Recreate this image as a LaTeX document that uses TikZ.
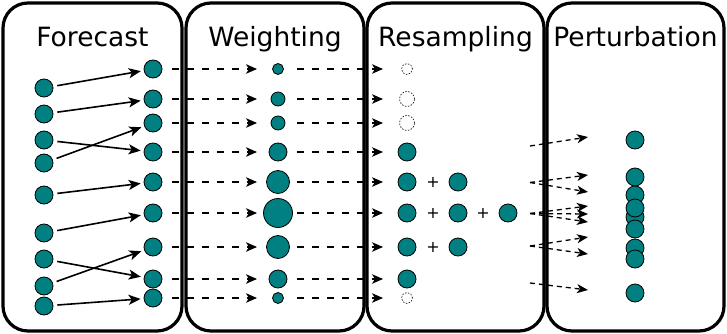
\documentclass[tikz,border=0pt]{standalone}
\usepackage{fontspec}
\newfontfamily\headfont{DejaVu Sans}
\usetikzlibrary{arrows.meta,positioning}
\definecolor{ink}{HTML}{000000}
\definecolor{ptfill}{HTML}{008080}
\tikzset{
  panel/.style={draw=ink,line width=3.2pt,rounded corners=25pt},
  head/.style={font=\headfont\fontsize{26.5}{30}\selectfont,anchor=base,text=ink,inner sep=0pt},
  ptcl/.style={circle,draw=ink,line width=.8pt,fill=ptfill,minimum size=18pt,inner sep=0pt},
  gone/.style={circle,draw=ink,line width=.6pt,dash pattern=on 1.5pt off 1.5pt,fill=white,inner sep=0pt},
  plus/.style={font=\headfont\fontsize{16}{18}\selectfont,inner sep=0pt,text=ink},
  ar/.style={-{Stealth[length=12pt,width=10pt,inset=3pt]},draw=ink,line width=1.6pt},
  dar/.style={-{Stealth[length=11pt,width=9.5pt,inset=3pt]},draw=ink,line width=1.4pt,dash pattern=on 7pt off 8pt},
  par/.style={-{Stealth[length=11pt,width=9pt,inset=3pt]},draw=ink,line width=1.3pt,dash pattern=on 5pt off 4pt},
}

\begin{document}
\begin{tikzpicture}[x=1pt,y=-1pt]
  \useasboundingbox (0,0) rectangle (727,334);
  % four stages
  \draw[panel] (3,3) rectangle (182,331);
  \draw[panel] (186,3) rectangle (364,331);
  \draw[panel] (367,3) rectangle (544,331);
  \draw[panel] (547,3) rectangle (724,331);
  \node[head] (hf) at (92.5,47) {Forecast};
  \node[head] (hw) at (275,47) {Weighting};
  \node[head] (hr) at (455.5,47) {Resampling};
  \node[head] (hp) at (635.5,47) {Perturbation};
  % forecast
  \foreach \y [count=\i] in {88,114,140,163,195,233,259,286,306} \node[ptcl] (s\i) at (44,\y) {};
  \foreach \y [count=\i] in {69,99,123,152,182,213,247,279,298} \node[ptcl] (f\i) at (153,\y) {};
  \foreach \a/\b in {1/1,2/2,3/4,4/3,5/5,6/6,7/8,8/7,9/9} \draw[ar,shorten <=4pt,shorten >=3pt] (s\a) -- (f\b);
  % weighting
  \foreach \y/\d [count=\i] in {69/11,99/14,123/14,152/18,182/23,213/29,247/23,279/18,298/11} \node[ptcl,minimum size=\d] (w\i) at (278,\y) {};
  \coordinate (wtip) at (257,0);
  \coordinate (wout) at (297,0);
  \coordinate (rtip) at (383,0);
  \foreach \i in {1,...,9} {
    \draw[dar,shorten <=10pt] (f\i) -- (f\i -| wtip);
    \draw[dar] (w\i -| wout) -- (w\i -| rtip);
  }
  % resampling
  \node[gone,minimum size=11] (r1) at (407,69) {};
  \node[gone,minimum size=15] (r2) at (407,99) {};
  \node[gone,minimum size=15] (r3) at (407,123) {};
  \foreach \y [count=\i from 4] in {152,182,213,247,279} \node[ptcl] (r\i) at (407,\y) {};
  \node[gone,minimum size=11] (r9) at (407,298) {};
  \node[plus] (p5) at (433,182) {+};
  \node[ptcl] (r5b) at (458,182) {};
  \node[plus] (p6) at (433,213) {+};
  \node[ptcl] (r6b) at (458,213) {};
  \node[plus] (p6b) at (483,213) {+};
  \node[ptcl] (r6c) at (508,213) {};
  \node[plus] (p7) at (433,247) {+};
  \node[ptcl] (r7b) at (458,247) {};
  % perturbation
  \coordinate (o4) at (530,146);
  \coordinate (o5) at (530,182.5);
  \coordinate (o6) at (530,213.5);
  \coordinate (o7) at (530,246);
  \coordinate (o8) at (530,283);
  \foreach \s/\y [count=\i] in {4/137,5/175,5/192,6/206,6/214,6/222,7/237,7/254,8/290} {
    \coordinate (t\i) at (588,\y);
    \draw[par] (o\s) -- (t\i);
  }
  \foreach \y [count=\i] in {140,177,195,217,208,229,248,259,293} \node[ptcl] (z\i) at (635,\y) {};
\end{tikzpicture}
\end{document}
